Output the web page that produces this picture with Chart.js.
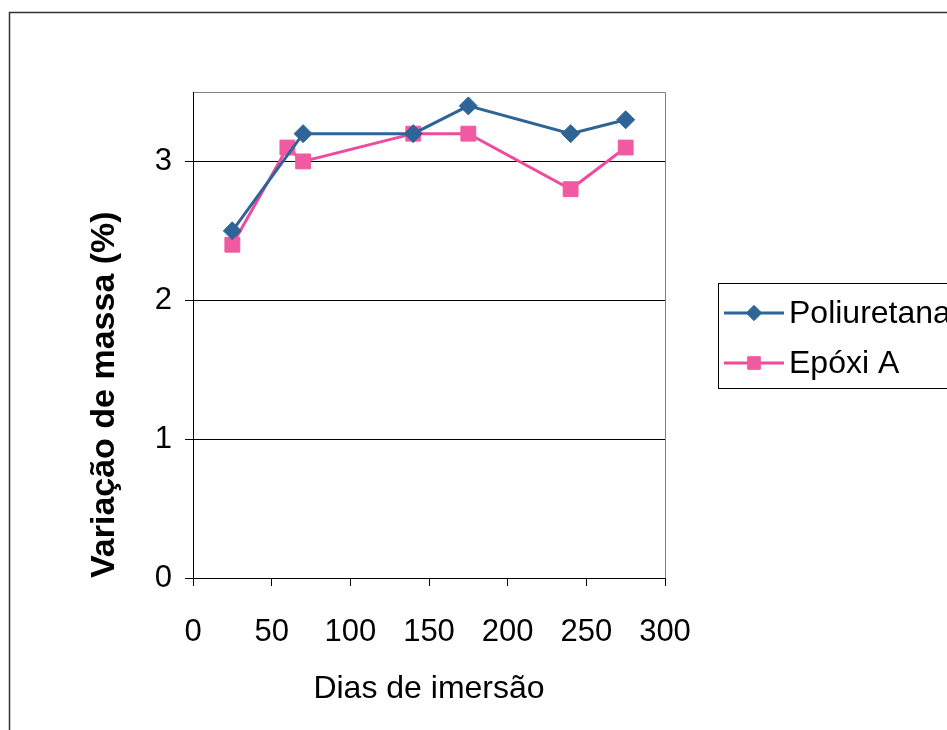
<!DOCTYPE html>
<html>
<head>
<meta charset="utf-8">
<script src="https://cdn.jsdelivr.net/npm/chart.js@4/dist/chart.umd.min.js"></script>
<style>
  html, body { margin: 0; padding: 0; background: #ffffff; }
  #wrap { width: 947px; height: 730px; position: relative; }
</style>
</head>
<body>
<div id="wrap"><canvas id="c"></canvas></div>
<script>
// Dias de imersão (x) e variação de massa (%) de cada revestimento
const diasPoliuretana = [25, 70, 140, 175, 240, 275];
const poliuretana     = [2.5, 3.2, 3.2, 3.4, 3.2, 3.3];
const diasEpoxiA      = [25, 60, 70, 140, 175, 240, 275];
const epoxiA          = [2.4, 3.1, 3.0, 3.2, 3.2, 2.8, 3.1];

const xTicks = [0, 50, 100, 150, 200, 250, 300];
const yTicks = [0, 1, 2, 3];

const seriesNames = ['Poliuretana', 'Epóxi A'];
const xTitle = 'Dias de imersão';
const yTitle = 'Variação de massa (%)';

const FONT = "'Liberation Sans', Arial, sans-serif";

const toPoints = (xs, ys) => xs.map((x, i) => ({ x: x, y: ys[i] }));

// Moldura externa e contorno da área do gráfico
const framePlugin = {
  id: 'frame',
  beforeDraw(chart) {
    const ctx = chart.ctx;
    const a = chart.chartArea;
    ctx.save();
    ctx.strokeStyle = '#333333';
    ctx.lineWidth = 1.5;
    ctx.beginPath();
    ctx.moveTo(9.5, 730);
    ctx.lineTo(9.5, 12.5);
    ctx.lineTo(947, 12.5);
    ctx.stroke();
    ctx.strokeStyle = '#808080';
    ctx.lineWidth = 1;
    ctx.beginPath();
    ctx.moveTo(Math.round(a.left) + 0.5, Math.round(a.top) + 0.5);
    ctx.lineTo(Math.round(a.right) + 0.5, Math.round(a.top) + 0.5);
    ctx.lineTo(Math.round(a.right) + 0.5, Math.round(a.bottom) + 0.5);
    ctx.stroke();
    ctx.restore();
  }
};

// Legenda com caixa, linha e marcador de cada série
const boxLegendPlugin = {
  id: 'boxLegend',
  afterDraw(chart) {
    const ctx = chart.ctx;
    const box = { x: 718.5, y: 283.5, w: 260, h: 105 };
    ctx.save();
    ctx.strokeStyle = '#000000';
    ctx.lineWidth = 1;
    ctx.strokeRect(box.x, box.y, box.w, box.h);
    const rows = [313, 363];
    chart.data.datasets.forEach((ds, i) => {
      const y = rows[i];
      ctx.strokeStyle = ds.borderColor;
      ctx.lineWidth = 3;
      ctx.beginPath();
      ctx.moveTo(724, y);
      ctx.lineTo(784, y);
      ctx.stroke();
      ctx.fillStyle = ds.pointBackgroundColor;
      ctx.strokeStyle = ds.pointBorderColor;
      ctx.lineWidth = 1;
      Chart.helpers.drawPoint(ctx, {
        pointStyle: ds.pointStyle,
        radius: ds.pointRadius * 0.85,
        borderWidth: 1
      }, 754, y);
      ctx.fillStyle = '#000000';
      ctx.font = '32px ' + FONT;
      ctx.textBaseline = 'middle';
      ctx.textAlign = 'left';
      ctx.fillText(ds.label, 789, y + 1);
    });
    ctx.restore();
  }
};

new Chart(document.getElementById('c'), {
  type: 'line',
  data: {
    datasets: [
      {
        label: seriesNames[0],
        data: toPoints(diasPoliuretana, poliuretana),
        borderColor: '#2f6496',
        backgroundColor: '#2f6496',
        pointBackgroundColor: '#2f6496',
        pointBorderColor: '#2f6496',
        pointStyle: 'rectRot',
        pointRadius: 9,
        pointBorderWidth: 1,
        borderWidth: 3,
        tension: 0
      },
      {
        label: seriesNames[1],
        data: toPoints(diasEpoxiA, epoxiA),
        borderColor: '#ef4a9c',
        backgroundColor: '#ef5aa0',
        pointBackgroundColor: '#ef5aa0',
        pointBorderColor: '#ef5aa0',
        pointStyle: 'rect',
        pointRadius: 10.5,
        pointBorderWidth: 1,
        borderWidth: 3,
        tension: 0
      }
    ]
  },
  options: {
    responsive: true,
    maintainAspectRatio: false,
    animation: false,
    layout: { padding: { left: 0, top: 92, right: 282, bottom: 0 } },
    plugins: {
      legend: { display: false },
      tooltip: { enabled: false }
    },
    scales: {
      x: {
        type: 'linear',
        min: 0,
        max: 300,
        afterBuildTicks(scale) { scale.ticks = xTicks.map(v => ({ value: v })); },
        afterFit(scale) { scale.height = 730 - 578; },
        ticks: {
          color: '#000000',
          padding: 28,
          maxRotation: 0,
          font: { family: FONT, size: 31 }
        },
        grid: {
          drawOnChartArea: false,
          drawTicks: true,
          tickLength: 8,
          tickColor: '#000000',
          color: '#000000'
        },
        border: { color: '#000000', width: 1 },
        title: {
          display: true,
          text: xTitle,
          color: '#000000',
          font: { family: FONT, size: 32 },
          padding: { top: 0, bottom: 22 }
        }
      },
      y: {
        type: 'linear',
        min: 0,
        max: 3.5,
        afterBuildTicks(scale) { scale.ticks = yTicks.map(v => ({ value: v })); },
        afterFit(scale) { scale.width = 193; },
        ticks: {
          color: '#000000',
          padding: 13,
          font: { family: FONT, size: 31 }
        },
        grid: {
          color: '#000000',
          lineWidth: 1,
          drawTicks: true,
          tickLength: 8,
          tickColor: '#000000'
        },
        border: { color: '#000000', width: 1 },
        title: {
          display: true,
          text: yTitle,
          align: 'start',
          color: '#000000',
          font: { family: FONT, size: 34, weight: 'bold' },
          padding: { top: 84, bottom: 0 }
        }
      }
    }
  },
  plugins: [framePlugin, boxLegendPlugin]
});
</script>
</body>
</html>
